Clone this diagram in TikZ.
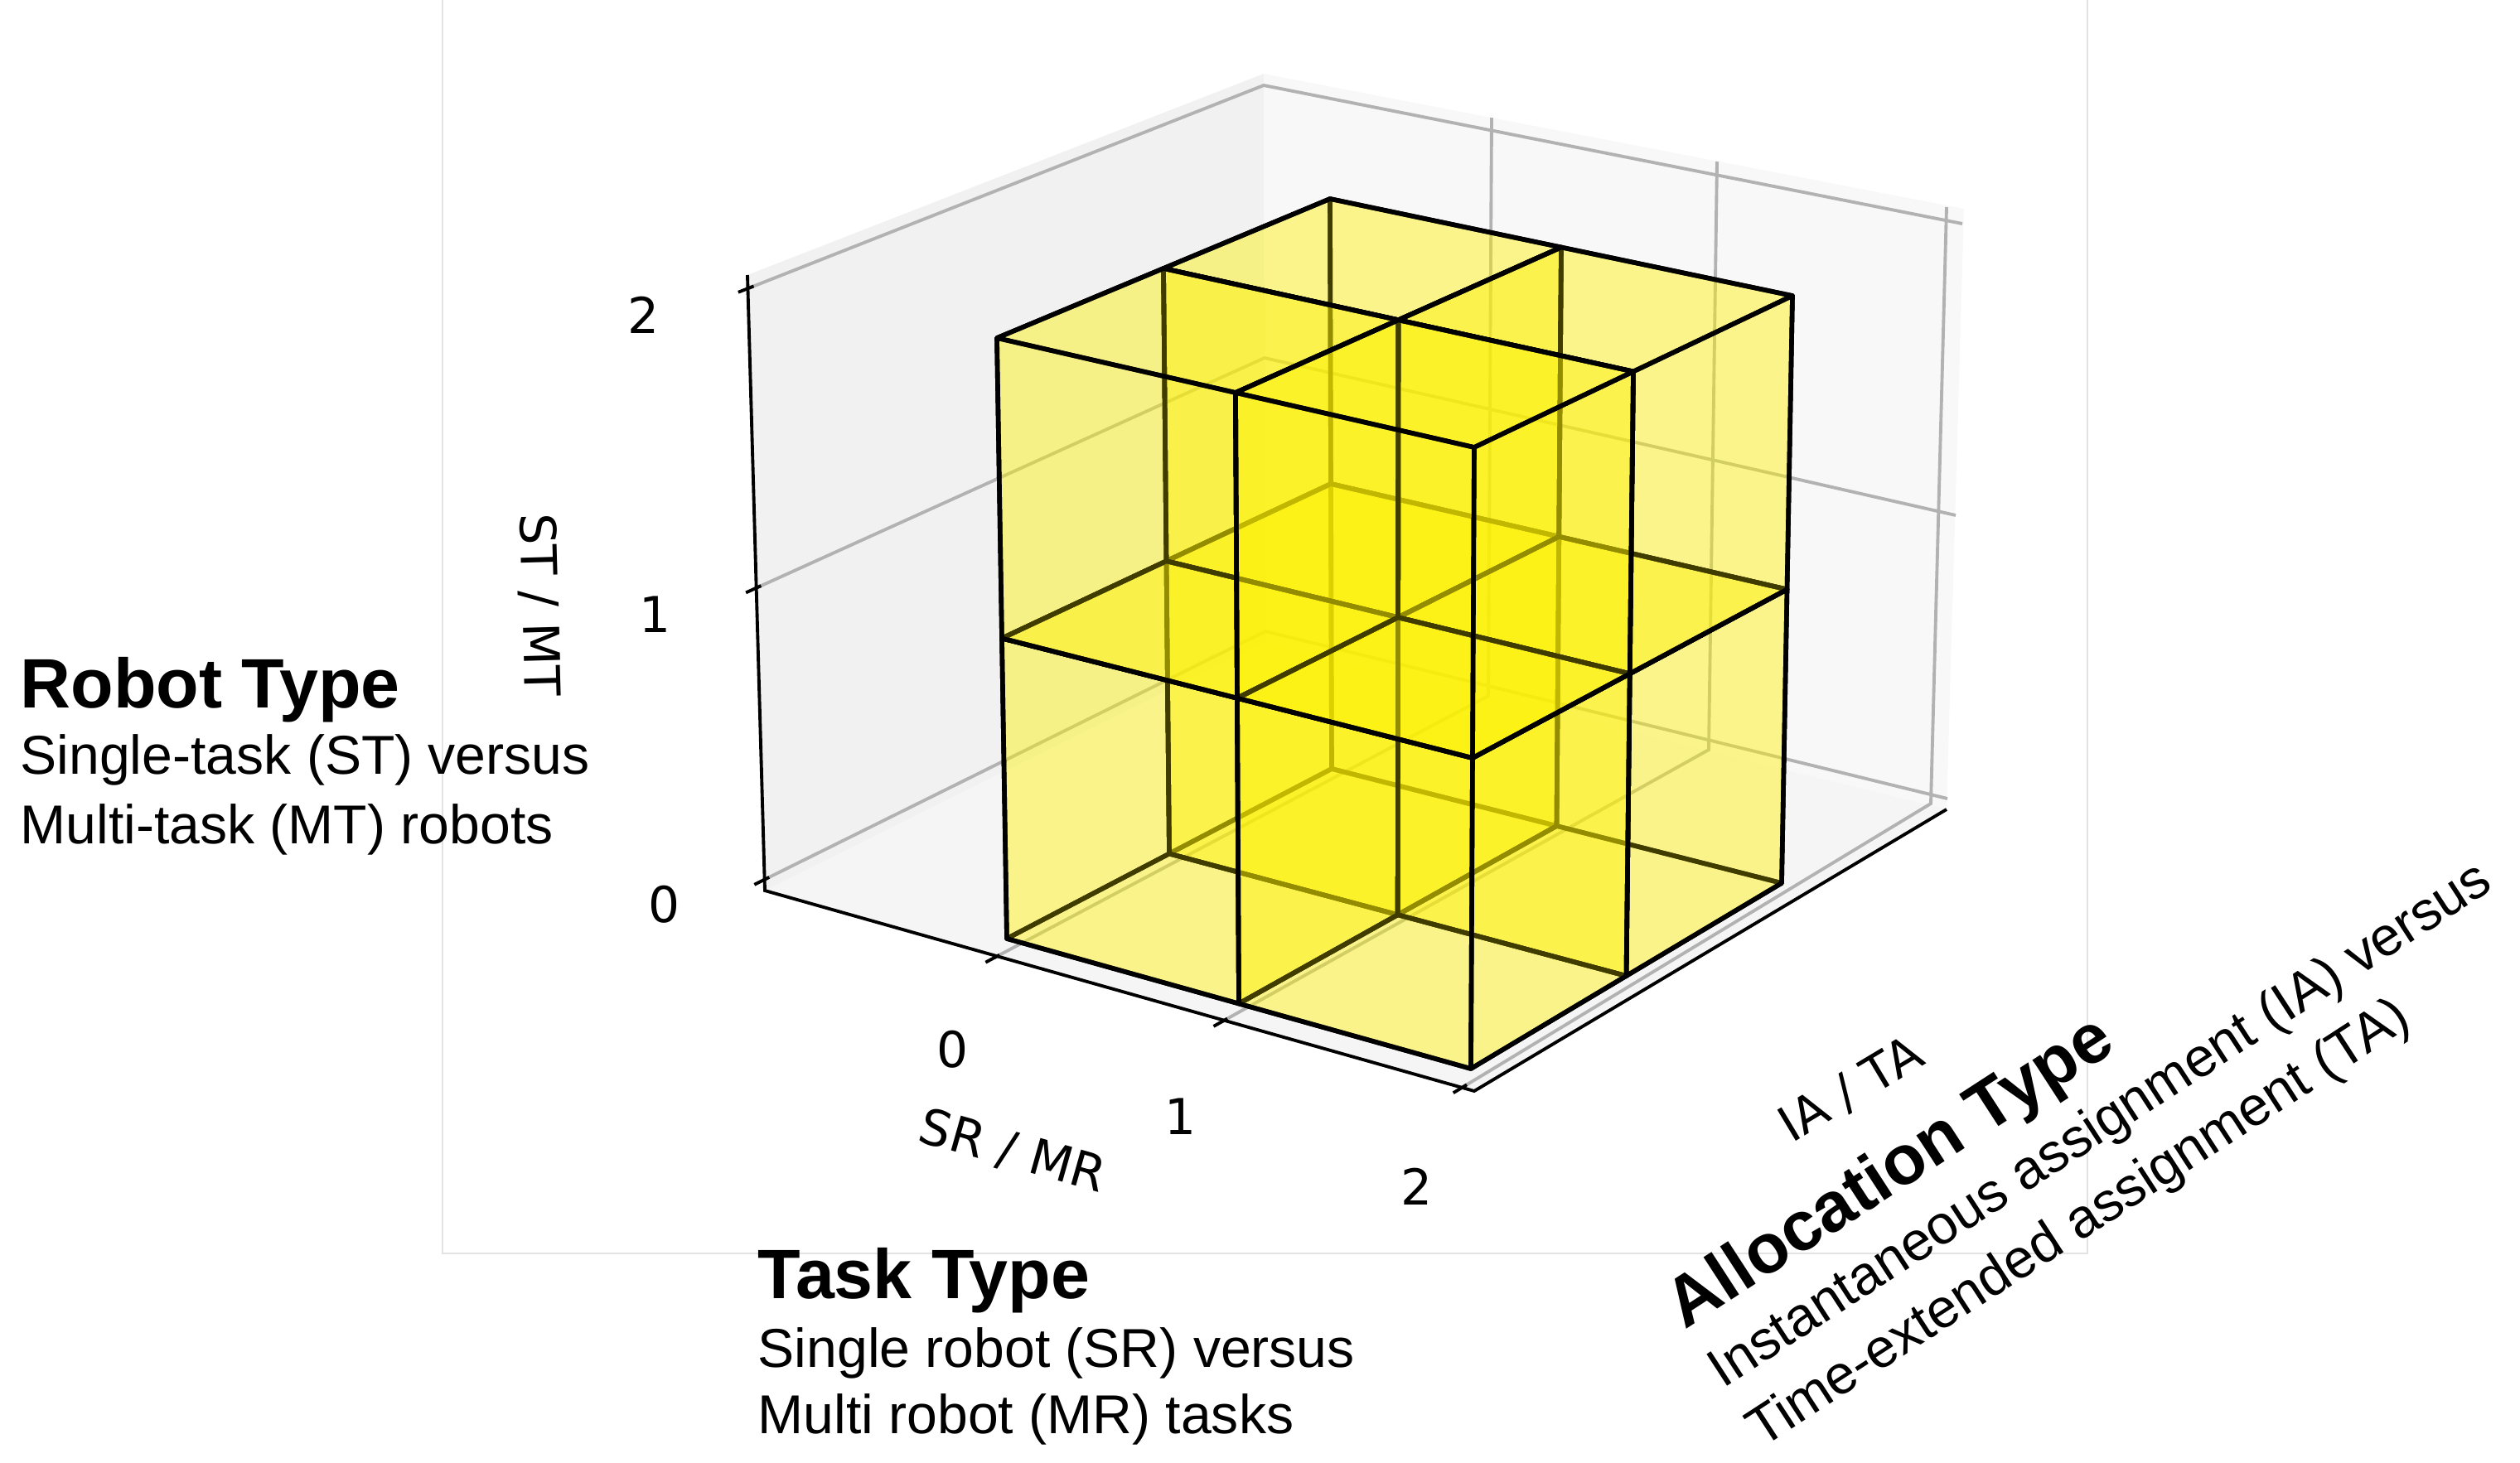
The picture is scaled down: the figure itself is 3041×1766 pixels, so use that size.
\documentclass[tikz,border=0pt]{standalone}
\usepackage{fontspec}
\setmainfont{Liberation Sans}
\newfontfamily\dejavu{DejaVu Sans}
\usetikzlibrary{calc}
\definecolor{leftpane}{HTML}{F1F1F1}
\definecolor{rightpane}{HTML}{F8F8F8}
\definecolor{floorpane}{HTML}{F5F5F5}
\definecolor{gridgray}{HTML}{B2B2B2}
\definecolor{framegray}{HTML}{E2E2E2}

\begin{document}
\begin{tikzpicture}[x=0.01cm, y=-0.01cm,
    gridline/.style={draw=gridgray, line width=1.1pt},
    axisline/.style={draw=black, line width=1.1pt},
    ticklabel/.style={font=\dejavu\fontsize{17}{20}\selectfont, inner sep=0pt},
    cellface/.style={fill=yellow, fill opacity=0.25, draw=black, line width=1.6pt, line join=round},
    blocktitle/.style={font=\bfseries\fontsize{24}{29}\selectfont, anchor=base west, inner sep=0pt},
    blocktext/.style={font=\fontsize{18.8}{22}\selectfont, anchor=base west, inner sep=0pt}]
\useasboundingbox (0,0) rectangle (3041,1766);

% axes frame
\draw[framegray, line width=0.5pt] (534,0) -- (534,1513) -- (2519,1513) -- (2519,0);

% panes
\coordinate (lt) at (902,332);
\coordinate (lb) at (923,1075);
\coordinate (bt) at (1525,89);
\coordinate (bb) at (1527,775);
\coordinate (rt) at (2370,252);
\coordinate (rb) at (2349,977);
\coordinate (ff) at (1779,1317);
\fill[leftpane] (lt) -- (bt) -- (bb) -- (lb) -- cycle;
\fill[rightpane] (bt) -- (rt) -- (rb) -- (bb) -- cycle;
\fill[floorpane] (lb) -- (bb) -- (rb) -- (ff) -- cycle;

% grid
\coordinate (zf0) at (922,1062); \coordinate (zb0) at (1527,762); \coordinate (zr0) at (2350,964);
\coordinate (zf1) at (912,710);  \coordinate (zb1) at (1526,432); \coordinate (zr1) at (2360,622);
\coordinate (zf2) at (903,348);  \coordinate (zb2) at (1525,103); \coordinate (zr2) at (2368,270);
\coordinate (xt0) at (1800,142); \coordinate (xb0) at (1796,840); \coordinate (xf0) at (1200,1156);
\coordinate (xt1) at (2072,195); \coordinate (xb1) at (2062,905); \coordinate (xf1) at (1475,1233);
\coordinate (xt2) at (2349,250); \coordinate (xb2) at (2330,970); \coordinate (xf2) at (1764,1313);
\foreach \n in {0,1,2}{
  \draw[gridline] (zf\n) -- (zb\n) -- (zr\n);
  \draw[gridline] (xt\n) -- (xb\n) -- (xf\n);
}

% axes and ticks
\draw[axisline] (lt) -- (lb) -- (ff) -- (rb);
\foreach \n in {0,1,2}{
  \draw[axisline] ($(zf\n)!-0.13cm!(zb\n)$) -- ($(zf\n)!0.07cm!(zb\n)$);
  \draw[axisline] ($(xf\n)!-0.12cm!(xb\n)$) -- ($(xf\n)!0.07cm!(xb\n)$);
}
\node[ticklabel] (zl2) at (777,380) {2};
\node[ticklabel] (zl1) at (791,742) {1};
\node[ticklabel] (zl0) at (802,1092) {0};
\node[ticklabel] (xl0) at (1150,1267) {0};
\node[ticklabel] (xl1) at (1425,1348) {1};
\node[ticklabel] (xl2) at (1710,1432) {2};
\node[ticklabel, rotate=-88.4] (zlab) at (650,730) {ST / MT};
\node[ticklabel, rotate=-15.8] (xlab) at (1222,1390) {SR / MR};
\node[ticklabel, rotate=30.9] (ylab) at (2234,1316) {IA / TA};

% outer corners of the 2x2x2 block
\coordinate (cA) at (1215,1133); % (0,0,0)
\coordinate (cB) at (1775,1290); % (2,0,0)
\coordinate (cC) at (2150,1066); % (2,2,0)
\coordinate (cD) at (1607,928);  % (0,2,0)
\coordinate (cE) at (1203,408);  % (0,0,2)
\coordinate (cF) at (1779,540);  % (2,0,2)
\coordinate (cG) at (2163,357);  % (2,2,2)
\coordinate (cH) at (1605,240);  % (0,2,2)
\foreach \i in {0,1,2}{
  \foreach \j in {0,1,2}{
    \foreach \k in {0,1,2}{
      \pgfmathsetmacro\u{\i/2}
      \pgfmathsetmacro\v{\j/2}
      \pgfmathsetmacro\w{\k/2}
      \coordinate (p\i\j\k) at ($ {(1-\u)*(1-\v)*(1-\w)}*(cA) + {\u*(1-\v)*(1-\w)}*(cB)
        + {\u*\v*(1-\w)}*(cC) + {(1-\u)*\v*(1-\w)}*(cD) + {(1-\u)*(1-\v)*\w}*(cE)
        + {\u*(1-\v)*\w}*(cF) + {\u*\v*\w}*(cG) + {(1-\u)*\v*\w}*(cH) $);
    }
  }
}

% unit cells, back to front
\foreach \i in {0,1}{
  \foreach \j in {1,0}{
    \foreach \k in {0,1}{
      \pgfmathtruncatemacro\ii{\i+1}
      \pgfmathtruncatemacro\jj{\j+1}
      \pgfmathtruncatemacro\kk{\k+1}
      \filldraw[cellface] (p\i\j\k) -- (p\i\jj\k) -- (p\i\jj\kk) -- (p\i\j\kk) -- cycle;
      \filldraw[cellface] (p\i\jj\k) -- (p\ii\jj\k) -- (p\ii\jj\kk) -- (p\i\jj\kk) -- cycle;
      \filldraw[cellface] (p\i\j\k) -- (p\ii\j\k) -- (p\ii\jj\k) -- (p\i\jj\k) -- cycle;
      \filldraw[cellface] (p\i\j\kk) -- (p\ii\j\kk) -- (p\ii\jj\kk) -- (p\i\jj\kk) -- cycle;
      \filldraw[cellface] (p\i\j\k) -- (p\ii\j\k) -- (p\ii\j\kk) -- (p\i\j\kk) -- cycle;
      \filldraw[cellface] (p\ii\j\k) -- (p\ii\jj\k) -- (p\ii\jj\kk) -- (p\ii\j\kk) -- cycle;
    }
  }
}

% dimension captions
\node[blocktitle] (robot) at (24,854) {Robot Type};
\node[blocktext] (robot1) at (24,934) {Single-task (ST) versus};
\node[blocktext] (robot2) at (24,1018) {Multi-task (MT) robots};

\node[blocktitle] (task) at (914,1567) {Task Type};
\node[blocktext] (task1) at (914,1650) {Single robot (SR) versus};
\node[blocktext] (task2) at (914,1730) {Multi robot (MR) tasks};

\begin{scope}[shift={(2033,1606)}, rotate=33, transform shape]
  \node[blocktitle] (alloc) at (0,0) {Allocation Type};
  \node[blocktext] (alloc1) at (0,85) {Instantaneous assignment (IA) versus};
  \node[blocktext] (alloc2) at (0,170) {Time-extended assignment (TA)};
\end{scope}
\end{tikzpicture}
\end{document}
